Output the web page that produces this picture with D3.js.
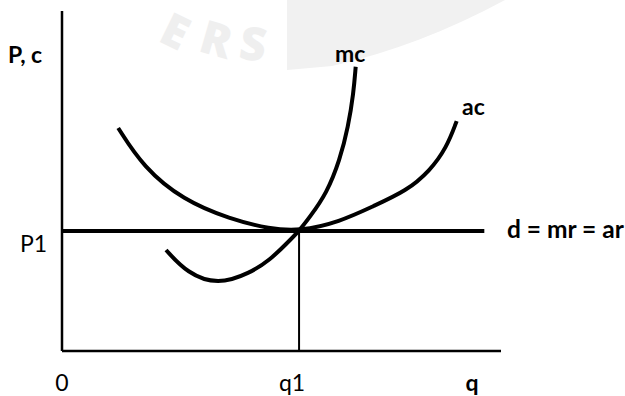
<!DOCTYPE html>
<html>
<head>
<meta charset="utf-8">
<script src="https://cdn.jsdelivr.net/npm/d3@7"></script>
<style>
  html, body { margin: 0; padding: 0; background: #fff; }
  svg { display: block; }
  text { font-family: Lato, "Open Sans", sans-serif; fill: #000; }
</style>
</head>
<body>
<div id="chart"></div>
<script>
(function () {
  'use strict';

  // ── Data (q and P/c in 0–100 units) ──────────────────────────────────────
  const acQ  = [12.8, 18.5, 27.6, 38.3, 47.4, 54.0, 63.3, 70.9, 78.5, 83.8, 87.6, 89.9];
  const acC  = [65.6, 54.1, 44.4, 38.8, 35.9, 35.2, 38.0, 42.6, 47.1, 53.0, 59.8, 67.6];

  const mcQ  = [23.7, 28.5, 35.5, 42.8, 47.4, 51.3, 54.0, 56.5, 60.3, 63.3, 65.2, 66.4, 66.9];
  const mcC  = [29.7, 22.9, 19.4, 22.9, 26.8, 31.8, 35.3, 39.5, 46.4, 56.2, 66.0, 75.8, 83.6];

  const P1 = 35.3;           // market price
  const Q1 = 54.0;           // output where P1 = mc
  const demandEnd = 96.2;    // right end of d = mr = ar line

  const xTickLabels = ['0', 'q1', 'q'];
  const xTickValues = [0, 52.4, 93.4];

  const W = 625, H = 396;
  const x = d3.scaleLinear().domain([0, 100]).range([62, 501]);
  const y = d3.scaleLinear().domain([0, 100]).range([351, 11]);

  const svg = d3.select('#chart').append('svg')
    .attr('width', W).attr('height', H);

  // ── Faint watermark ──────────────────────────────────────────────────────
  const wm = svg.append('g');
  wm.append('path')
    .attr('d', 'M287,0 L287,70 L332,66 Q420,46 505,0 Z')
    .attr('fill', '#f1f1f1');
  [['E', 168, 46, 26], ['R', 212, 55, 16], ['S', 251, 60, 8]].forEach(([ch, tx, ty, rot]) => {
    wm.append('text')
      .attr('transform', `translate(${tx},${ty}) rotate(${rot})`)
      .attr('text-anchor', 'middle')
      .attr('font-size', 46)
      .attr('font-weight', 800)
      .style('font-family', '"Open Sans", sans-serif')
      .style('fill', '#efefef')
      .text(ch);
  });

  // ── Axes ─────────────────────────────────────────────────────────────────
  svg.append('line')
    .attr('x1', x(0)).attr('x2', x(0))
    .attr('y1', y(0)).attr('y2', y(100))
    .attr('stroke', '#000').attr('stroke-width', 2.5);
  svg.append('line')
    .attr('x1', x(0)).attr('x2', x(100))
    .attr('y1', y(0)).attr('y2', y(0))
    .attr('stroke', '#000').attr('stroke-width', 2.5);

  // q1 drop line
  svg.append('line')
    .attr('x1', x(Q1)).attr('x2', x(Q1))
    .attr('y1', y(P1)).attr('y2', y(0))
    .attr('stroke', '#000').attr('stroke-width', 2);

  // d = mr = ar
  svg.append('line')
    .attr('x1', x(0)).attr('x2', x(demandEnd))
    .attr('y1', y(P1)).attr('y2', y(P1))
    .attr('stroke', '#000').attr('stroke-width', 4);

  // ── Cost curves ──────────────────────────────────────────────────────────
  const line = d3.line()
    .x(d => x(d[0])).y(d => y(d[1]))
    .curve(d3.curveBasis);

  svg.append('path')
    .datum(d3.zip(acQ, acC))
    .attr('d', line)
    .attr('fill', 'none').attr('stroke', '#000').attr('stroke-width', 4);

  svg.append('path')
    .datum(d3.zip(mcQ, mcC))
    .attr('d', line)
    .attr('fill', 'none').attr('stroke', '#000').attr('stroke-width', 4);

  // ── Labels ───────────────────────────────────────────────────────────────
  const label = (txt, px, py, bold, anchor, size) => svg.append('text')
    .attr('x', px).attr('y', py)
    .attr('text-anchor', anchor || 'start')
    .attr('font-size', size || 23)
    .attr('font-weight', bold ? 700 : 400)
    .text(txt);

  label('P, c', 8, 63, true);
  label('P1', 20, 252, false);
  label('mc', 335, 62, true);
  label('ac', 462, 115, true);
  label('d = mr = ar', 507, 238, true, 'start', 24.5);

  xTickLabels.forEach((t, i) => {
    label(t, x(xTickValues[i]), 391, t === 'q', 'middle');
  });
})();
</script>
</body>
</html>
